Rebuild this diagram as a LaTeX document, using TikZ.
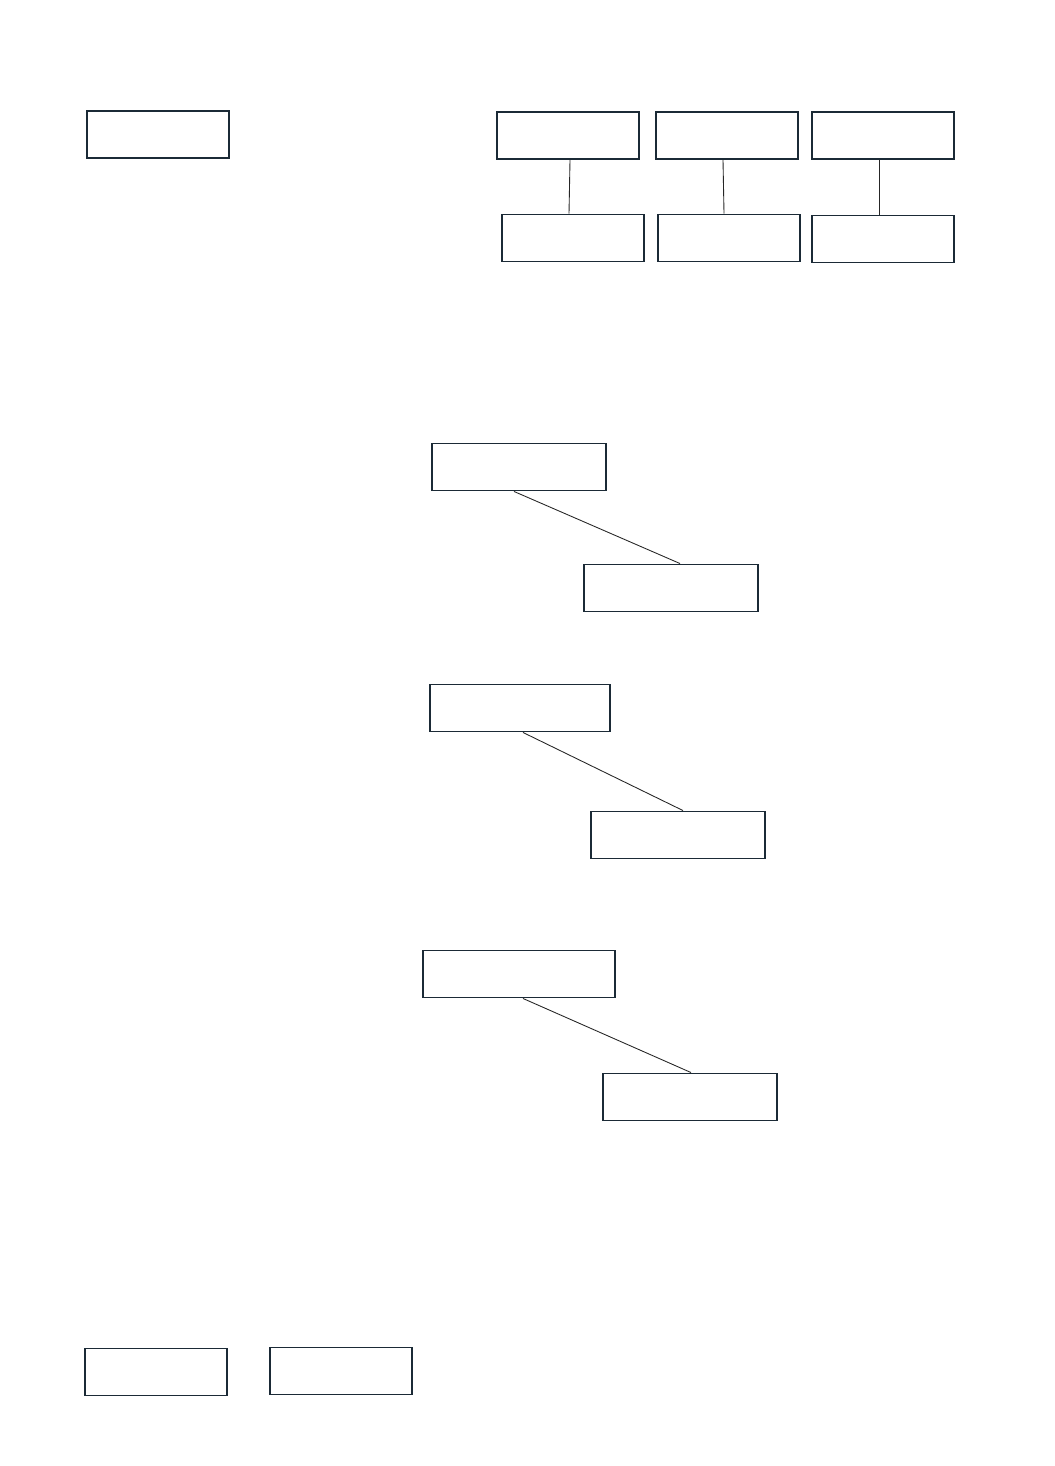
\documentclass[tikz,border=0pt]{standalone}
\usepackage{xcolor}
\usepackage{tikz}
\usetikzlibrary{positioning}

\definecolor{boxline}{HTML}{1B2A36}

\begin{document}
\begin{tikzpicture}[
    x=0.02cm, y=-0.02cm,
    every node/.style={rectangle, draw=boxline, line width=1.1pt, fill=white,
      minimum width=2.84cm, minimum height=0.94cm, inner sep=0pt},
    wide/.style={minimum width=3.48cm},
    link/.style={draw=black!85, line width=0.5pt},
  ]
  \useasboundingbox (0,0) rectangle (1054,1466);

  \node (start) at (158, 134.5) {};

  \node (t1) at (568, 135.5) {};
  \node (t2) at (727, 135.5) {};
  \node (t3) at (883, 135.5) {};
  \node (b1) at (573, 238)   {};
  \node (b2) at (729, 238)   {};
  \node (b3) at (883, 239)   {};

  \node[wide] (m1) at (519, 467) {};
  \node[wide] (n1) at (671, 588) {};
  \node[wide, minimum width=3.6cm] (m2) at (520, 708) {};
  \node[wide] (n2) at (678, 835) {};
  \node[wide, minimum width=3.84cm] (m3) at (519, 974) {};
  \node[wide] (n3) at (690, 1097) {};

  \node (end1) at (156, 1372) {};
  \node (end2) at (341, 1371) {};

  \draw[link] ([xshift=0.04cm]t1.south) -- ([xshift=-0.08cm]b1.north);
  \draw[link] ([xshift=-0.08cm]t2.south) -- ([xshift=-0.1cm]b2.north);
  \draw[link] ([xshift=-0.08cm]t3.south) -- ([xshift=-0.08cm]b3.north);
  \draw[link] ([xshift=-0.1cm]m1.south) -- ([xshift=0.18cm]n1.north);
  \draw[link] ([xshift=0.06cm]m2.south) -- ([xshift=0.1cm]n2.north);
  \draw[link] ([xshift=0.08cm]m3.south) -- ([xshift=0.02cm]n3.north);

\end{tikzpicture}
\end{document}
